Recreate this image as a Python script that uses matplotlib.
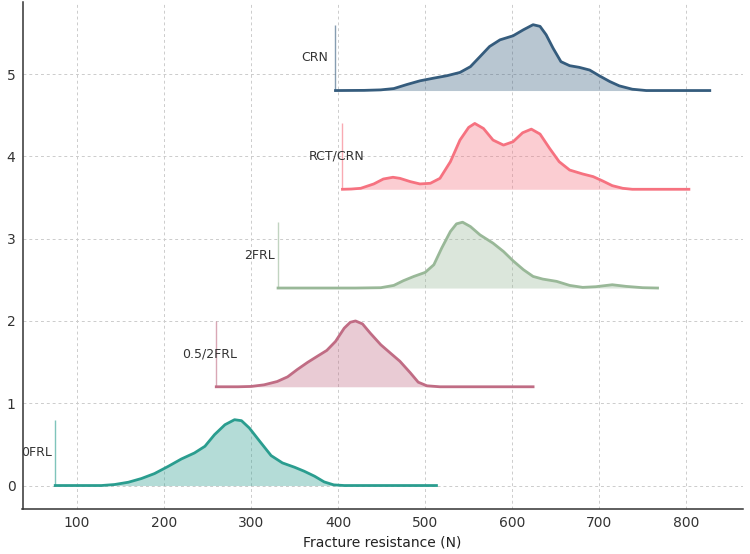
import numpy as np
import matplotlib.pyplot as plt

# groups, bottom to top
groups = ["0FRL", "0.5/2FRL", "2FRL", "RCT/CRN", "CRN"]
line_colors = ["#2a9d8f", "#c06c84", "#99b898", "#f67280", "#355c7d"]

# curve shapes: x (N), height above baseline
x_0frl = [75, 100, 128, 143, 159, 174, 189, 205, 220, 235, 247, 258, 270, 281, 289, 298, 310,
          323, 336, 350, 361, 373, 384, 395, 407, 513]
h_0frl = [0, 0, 0, 0.012, 0.04, 0.085, 0.145, 0.234, 0.323, 0.396, 0.477, 0.618, 0.739, 0.80, 0.788, 0.699, 0.537,
          0.364, 0.275, 0.222, 0.174, 0.113, 0.044, 0.008, 0, 0]

x_05 = [260, 285, 300, 315, 330, 342, 353, 365, 376, 387, 397, 407, 414, 420, 428, 437, 449, 460,
        471, 483, 492, 502, 517, 624]
h_05 = [0, 0, 0.004, 0.024, 0.064, 0.121, 0.209, 0.297, 0.37, 0.442, 0.551, 0.712, 0.784, 0.80, 0.764, 0.651, 0.511, 0.41,
        0.31, 0.169, 0.056, 0.012, 0, 0]

x_2frl = [331, 420, 449, 464, 475, 487, 500, 510, 519, 529, 536, 543, 552, 563, 578, 590, 601, 613,
          624, 635, 651, 666, 681, 696, 715, 731, 750, 767]
h_2frl = [0, 0, 0.004, 0.032, 0.089, 0.141, 0.19, 0.283, 0.485, 0.687, 0.78, 0.80, 0.747, 0.646, 0.545, 0.444, 0.331, 0.222,
          0.141, 0.109, 0.081, 0.032, 0.008, 0.016, 0.04, 0.02, 0.004, 0]

x_rct = [405, 415, 426, 441, 452, 463, 471, 483, 494, 506, 517, 529, 540, 550, 557, 567, 578, 590,
         601, 612, 622, 632, 643, 654, 666, 681, 693, 704, 715, 727, 738, 803]
h_rct = [0, 0.003, 0.012, 0.065, 0.125, 0.146, 0.133, 0.093, 0.065, 0.073, 0.133, 0.335, 0.598, 0.752, 0.80, 0.739, 0.598, 0.537,
         0.578, 0.687, 0.731, 0.671, 0.497, 0.335, 0.234, 0.186, 0.154, 0.101, 0.044, 0.012, 0, 0]

x_crn = [397, 430, 449, 464, 479, 494, 510, 525, 540, 552, 563, 574, 586, 601, 613, 624, 632, 639,
         647, 656, 666, 677, 689, 700, 712, 723, 738, 754, 827]
h_crn = [0, 0.002, 0.008, 0.024, 0.073, 0.118, 0.151, 0.18, 0.22, 0.29, 0.412, 0.535, 0.616, 0.665, 0.739, 0.80, 0.78, 0.678,
         0.514, 0.351, 0.302, 0.282, 0.249, 0.18, 0.11, 0.057, 0.016, 0, 0]

xs = [x_0frl, x_05, x_2frl, x_rct, x_crn]
hs = [h_0frl, h_05, h_2frl, h_rct, h_crn]
spacing = 1.2

fig, ax = plt.subplots(figsize=(7.5, 5.54), dpi=100)

for i, name in enumerate(groups):
    base = i * spacing
    x = np.array(xs[i])
    h = np.array(hs[i])
    c = line_colors[i]
    ax.fill_between(x, base, base + h, color=c, alpha=0.35, lw=0, zorder=2)
    ax.plot(x, base + h, color=c, lw=2, zorder=3, solid_joinstyle="round")
    ax.vlines(x[0], base, base + 0.8, color=c, lw=1, alpha=0.6, zorder=3)
    ax.text(x[0] - 39, base + 0.4, name, va="center", ha="left", fontsize=9, color="#333333")

ax.set_xlabel("Fracture resistance (N)", fontsize=10, color="#222222")
ax.set_xticks([100, 200, 300, 400, 500, 600, 700, 800])
ax.set_yticks([0, 1, 2, 3, 4, 5])
ax.tick_params(length=0, labelsize=10, colors="#333333", pad=5)
ax.grid(True, linestyle=(0, (3, 3)), color="#cccccc", lw=0.7, zorder=0)
ax.set_axisbelow(True)
for s in ["top", "right"]:
    ax.spines[s].set_visible(False)
for s in ["left", "bottom"]:
    ax.spines[s].set_color("#333333")
    ax.spines[s].set_linewidth(1.1)

fig.subplots_adjust(left=0.03, right=0.99, top=0.997, bottom=0.082)
fig.savefig("out.png")
